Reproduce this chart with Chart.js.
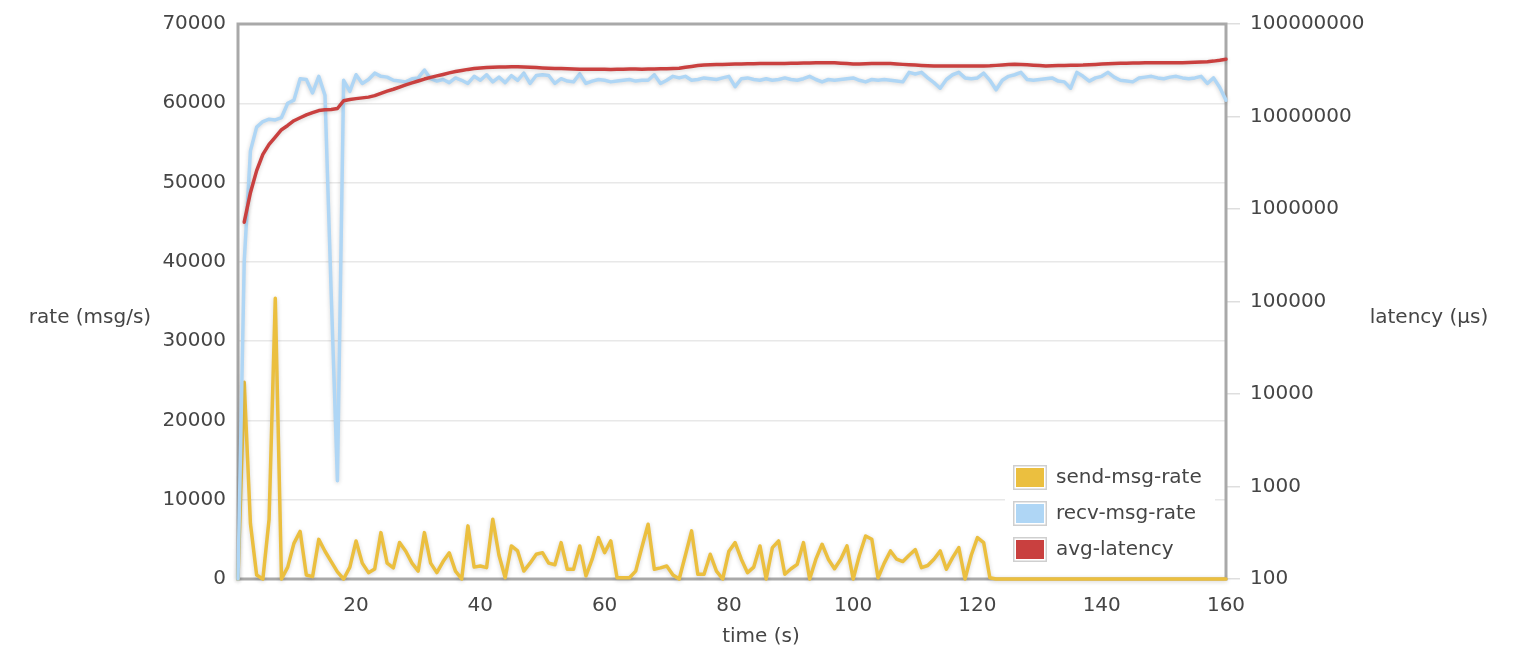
<!DOCTYPE html>
<html>
<head>
<meta charset="utf-8">
<script src="https://cdn.jsdelivr.net/npm/chart.js@4"></script>
<style>
  html, body { margin: 0; padding: 0; background: #fff; }
  #wrap { width: 1540px; height: 670px; }
</style>
</head>
<body>
<div id="wrap"><canvas id="chart" width="1540" height="670"></canvas></div>
<script>
// time (s), one sample per second
const TIME = Array.from({ length: 160 }, (_, i) => i + 1);

// send-msg-rate (msg/s)
const SEND = [
  0, 24800, 7000, 500, 0, 7500, 35400, 0, 1500, 4500,
  6000, 500, 300, 5000, 3500, 2200, 900, 0, 1500, 4800,
  2000, 800, 1260, 5850, 2000, 1400, 4600, 3500, 2000, 1000,
  5850, 2000, 800, 2200, 3300, 1000, 0, 6700, 1500, 1640,
  1430, 7550, 3000, 160, 4170, 3540, 1000, 2000, 3120, 3320,
  2000, 1800, 4590, 1230, 1230, 4170, 380, 2500, 5220, 3320,
  4800, 160, 160, 160, 1000, 4000, 6910, 1230, 1400, 1640,
  500, 0, 3000, 6070, 600, 600, 3120, 1000, 0, 3500,
  4590, 2500, 800, 1500, 4170, 0, 3960, 4800, 600, 1300,
  1850, 4590, 0, 2500, 4380, 2500, 1300, 2500, 4170, 0,
  3000, 5430, 5010, 160, 2000, 3540, 2500, 2200, 3000, 3700,
  1430, 1700, 2500, 3540, 1230, 2700, 3960, 0, 3000, 5220,
  4590, 160, 0, 0, 0, 0, 0, 0, 0, 0,
  0, 0, 0, 0, 0, 0, 0, 0, 0, 0,
  0, 0, 0, 0, 0, 0, 0, 0, 0, 0,
  0, 0, 0, 0, 0, 0, 0, 0, 0, 0
];

// recv-msg-rate (msg/s)
const RECV = [
  0, 40000, 54000, 57000, 57700, 58000, 57900, 58200, 60000, 60400,
  63100, 63000, 61300, 63400, 61000, 36000, 12400, 62900, 61500, 63600,
  62500, 63000, 63800, 63400, 63300, 62900, 62800, 62700, 63100, 63200,
  64200, 63100, 62800, 63000, 62600, 63200, 62900, 62500, 63400, 62900,
  63600, 62700, 63300, 62600, 63500, 62900, 63800, 62500, 63500, 63600,
  63500, 62500, 63100, 62800, 62700, 63700, 62500, 62800, 63000, 62900,
  62700, 62800, 62900, 63000, 62800, 62900, 62900, 63600, 62500, 62900,
  63400, 63200, 63400, 62900, 63000, 63200, 63100, 63000, 63200, 63400,
  62100, 63100, 63200, 63000, 62900, 63100, 62900, 63000, 63200, 63000,
  62900, 63100, 63400, 63000, 62700, 63000, 62900, 63000, 63100, 63200,
  62900, 62700, 63000, 62900, 63000, 62900, 62800, 62700, 63900, 63700,
  63900, 63200, 62600, 61900, 63000, 63600, 63900, 63200, 63100, 63200,
  63800, 62900, 61700, 62900, 63400, 63600, 63900, 63000, 62900, 63000,
  63100, 63200, 62800, 62700, 61900, 63900, 63400, 62800, 63200, 63400,
  63900, 63300, 62900, 62800, 62700, 63200, 63300, 63400, 63200, 63100,
  63300, 63400, 63200, 63100, 63200, 63400, 62500, 63200, 62000, 60400
];

// avg-latency (µs)
const LATENCY = [
  null, 720000, 1500000, 2600000, 3900000, 5000000, 6000000, 7200000, 8000000, 9000000,
  9700000, 10400000, 11000000, 11600000, 11800000, 11900000, 12200000, 14800000, 15300000, 15600000,
  15900000, 16200000, 16800000, 17800000, 18800000, 19700000, 20800000, 22000000, 23100000, 24200000,
  25400000, 26500000, 27500000, 28500000, 29600000, 30600000, 31400000, 32300000, 33000000, 33500000,
  33800000, 34000000, 34200000, 34300000, 34400000, 34500000, 34300000, 34100000, 33800000, 33500000,
  33300000, 33100000, 33000000, 32800000, 32600000, 32500000, 32400000, 32400000, 32500000, 32400000,
  32300000, 32400000, 32500000, 32700000, 32600000, 32500000, 32600000, 32700000, 32800000, 32900000,
  33000000, 33200000, 34000000, 34800000, 35500000, 36000000, 36200000, 36400000, 36600000, 36800000,
  36900000, 37000000, 37100000, 37200000, 37300000, 37300000, 37400000, 37500000, 37500000, 37600000,
  37700000, 37800000, 37900000, 38000000, 38100000, 38100000, 38000000, 37700000, 37300000, 36900000,
  37000000, 37200000, 37400000, 37500000, 37500000, 37300000, 37000000, 36600000, 36300000, 36000000,
  35700000, 35400000, 35100000, 35100000, 35100000, 35100000, 35100000, 35100000, 35100000, 35100000,
  35100000, 35300000, 35700000, 36100000, 36500000, 36800000, 36600000, 36300000, 35900000, 35500000,
  35200000, 35300000, 35500000, 35700000, 35800000, 35900000, 36000000, 36300000, 36600000, 36900000,
  37200000, 37500000, 37600000, 37700000, 37800000, 37900000, 38000000, 38100000, 38100000, 38100000,
  38100000, 38100000, 38100000, 38300000, 38500000, 38800000, 39100000, 39700000, 40500000, 41500000
];

const RATE_TICKS = [0, 10000, 20000, 30000, 40000, 50000, 60000, 70000];
const LATENCY_TICKS = [100, 1000, 10000, 100000, 1000000, 10000000, 100000000];

const YELLOW = '#ebbf3f';
const BLUE = '#afd6f5';
const RED = '#c9403f';
const TEXT = '#454545';
const FONT = 'DejaVu Sans';

Chart.defaults.font.family = FONT;
Chart.defaults.font.size = 20;
Chart.defaults.color = TEXT;

// soft shadow under each line, like the original
const lineShadow = {
  id: 'lineShadow',
  beforeDatasetDraw(chart) {
    const ctx = chart.ctx;
    ctx.save();
    ctx.shadowColor = 'rgba(0,0,0,0.18)';
    ctx.shadowBlur = 4;
    ctx.shadowOffsetY = 1;
  },
  afterDatasetDraw(chart) {
    chart.ctx.restore();
  }
};

// grey frame around the plot
const frame = {
  id: 'frame',
  beforeDatasetsDraw(chart) {
    const { ctx, chartArea: a } = chart;
    ctx.save();
    ctx.strokeStyle = '#a9a9a9';
    ctx.lineWidth = 3;
    ctx.strokeRect(a.left, a.top, a.right - a.left, a.bottom - a.top);
    ctx.restore();
  }
};

// horizontal axis titles + boxed legend in the lower right
const extras = {
  id: 'extras',
  afterDraw(chart) {
    const { ctx, chartArea: a } = chart;
    ctx.save();
    ctx.font = '20px ' + FONT;
    ctx.fillStyle = TEXT;
    ctx.textAlign = 'center';
    ctx.textBaseline = 'middle';
    const midY = (a.top + a.bottom) / 2;
    ctx.fillText('rate (msg/s)', 90, midY + 16);
    ctx.fillText('latency (µs)', 1429, midY + 16);
    ctx.fillText('time (s)', 761, 637);

    // legend box
    const bx = a.right - 221, by = a.bottom - 124;
    ctx.fillStyle = '#fff';
    ctx.fillRect(bx, by, 210, 117);
    ctx.textAlign = 'left';
    chart.data.datasets.forEach((ds, i) => {
      const y = by + 10 + i * 36;
      ctx.fillStyle = '#cfcfcf';
      ctx.fillRect(bx + 8, y, 34, 25);
      ctx.fillStyle = '#fff';
      ctx.fillRect(bx + 9.5, y + 1.5, 31, 22);
      ctx.fillStyle = ds.borderColor;
      ctx.fillRect(bx + 11, y + 3, 28, 19);
      ctx.fillStyle = TEXT;
      ctx.fillText(ds.label, bx + 51, y + 13);
    });
    ctx.restore();
  }
};

new Chart(document.getElementById('chart'), {
  type: 'line',
  data: {
    labels: TIME,
    datasets: [
      {
        label: 'send-msg-rate',
        data: SEND,
        yAxisID: 'rate',
        borderColor: YELLOW,
        backgroundColor: YELLOW,
        order: 2
      },
      {
        label: 'recv-msg-rate',
        data: RECV,
        yAxisID: 'rate',
        borderColor: BLUE,
        backgroundColor: BLUE,
        order: 1
      },
      {
        label: 'avg-latency',
        data: LATENCY,
        yAxisID: 'latency',
        borderColor: RED,
        backgroundColor: RED,
        order: 0
      }
    ]
  },
  options: {
    responsive: false,
    devicePixelRatio: 1,
    animation: false,
    layout: { padding: { top: 23, left: 0, right: 0, bottom: 0 } },
    elements: {
      line: { borderWidth: 3.5, tension: 0, borderJoinStyle: 'round', borderCapStyle: 'round' },
      point: { radius: 0, hoverRadius: 0 }
    },
    datasets: { line: { clip: false } },
    plugins: {
      legend: { display: false },
      tooltip: { enabled: false }
    },
    scales: {
      x: {
        type: 'category',
        offset: false,
        grid: { display: false, drawTicks: false },
        border: { display: false },
        ticks: {
          autoSkip: false,
          maxRotation: 0,
          minRotation: 0,
          padding: 15,
          callback: (v, i) => (TIME[i] % 20 === 0 ? String(TIME[i]) : null)
        },
        afterFit: s => { s.height = 91; }
      },
      rate: {
        type: 'linear',
        position: 'left',
        min: 0,
        max: 70000,
        grid: { color: '#e8e8e8', lineWidth: 1.5, drawTicks: false },
        border: { display: false },
        afterBuildTicks: s => { s.ticks = RATE_TICKS.map(v => ({ value: v })); },
        ticks: { padding: 12, callback: v => String(v) },
        afterFit: s => { s.width = 238; }
      },
      latency: {
        type: 'logarithmic',
        position: 'right',
        min: 100,
        max: 100000000,
        grid: { drawOnChartArea: false, drawTicks: true, tickLength: 14, color: '#dedede', lineWidth: 1.5 },
        border: { display: false },
        afterBuildTicks: s => { s.ticks = LATENCY_TICKS.map(v => ({ value: v })); },
        ticks: { padding: 10, callback: v => String(v) },
        afterFit: s => { s.width = 314; }
      }
    }
  },
  plugins: [lineShadow, frame, extras]
});
</script>
</body>
</html>
